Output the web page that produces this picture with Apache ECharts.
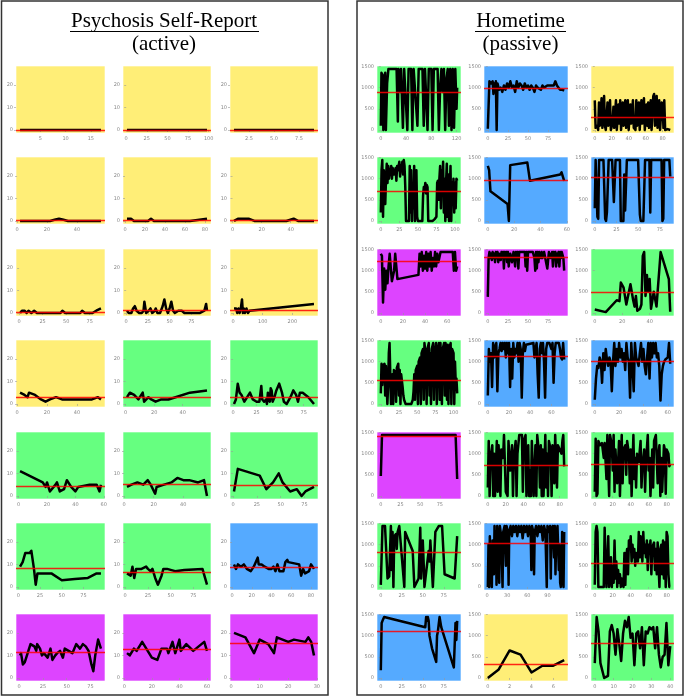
<!DOCTYPE html>
<html>
<head>
<meta charset="utf-8">
<script src="https://cdn.jsdelivr.net/npm/echarts@6/dist/echarts.min.js"></script>
<style>
  html, body { margin: 0; padding: 0; background: #fff; }
  #main { width: 685px; height: 697px; }
</style>
</head>
<body>
<div id="main"></div>
<script>
// ---- Psychosis self-report (active), row by row, [day, score] ----
const psy1 = [[1,0],[3,0],[5,0],[7,0],[9,0],[11,0],[13,0],[15,0],[17,0]]
const psy2 = [[1,0],[25,0],[50,0],[75,0],[98,0]]
const psy3 = [[1,0],[3,0],[5,0],[7,0],[9,0]]
const psy4 = [[2,0],[22,0],[25,0.5],[28,1],[31,0.5],[34,0],[56,0]]
const psy5 = [[2,1],[6,1],[9,0],[23,0],[26,1],[29,0],[65,0],[82,1]]
const psy6 = [[1,0],[4,1],[11,1],[15,0],[37,0],[42,1],[45,0],[56,0]]
const psy7 = [[1,0],[3,1],[6,1],[8,0],[10,1],[13,0],[16,1],[19,0],[24,0],[44,0],[46,1],[49,0],[65,0],[67,1],[70,0],[78,0],[82,1],[87,2]]
const psy8 = [[1,1],[3,0],[6,0],[8,2],[10,3],[12,1],[15,0],[18,0],[20,1],[21,5],[23,0],[26,1],[28,2],[30,0],[33,1],[34,2],[36,0],[39,0],[42,3],[44,6],[46,2],[48,0],[50,2],[52,5],[54,1],[56,0],[60,1],[64,1],[67,0],[75,0],[85,0],[90,1],[92,4],[93,1]]
const psy9 = [[3,2],[10,2],[14,0],[18,2],[22,0],[26,2],[30,6],[33,0],[36,2],[40,0],[45,2],[50,0],[55,1],[273,4]]
const psy10 = [[2,5],[5,4],[7,3],[8,5],[12,4],[16,2],[19,1],[22,2],[26,3],[30,2],[35,2],[45,2],[50,2],[54,3],[56,2]]
const psy11 = [[1,3],[3,5],[6,4],[9,2],[12,5],[13,1],[16,3],[18,2],[21,1],[25,2],[30,2],[35,3],[45,5],[57,6]]
const psy12 = [[1,0],[3,2],[5,9],[7,5],[9,4],[12,1],[15,3],[18,5],[21,2],[25,1],[28,1],[30,8],[31,2],[33,1],[35,2],[36,0],[37,5],[38,2],[39,1],[40,7],[41,6],[42,1],[44,3],[46,6],[49,9],[52,5],[54,1],[57,0],[61,3],[64,6],[67,4],[69,1],[71,5],[74,5],[80,3],[86,0]]
const psy13 = [[1,11],[17,6],[19,4],[20,6],[22,2],[26,5],[27,6],[29,2],[32,3],[34,7],[37,4],[40,2],[42,4],[50,5],[55,5],[57,2],[58,5]]
const psy14 = [[2,4],[5,5],[9,6],[13,5],[16,7],[18,5],[21,1],[22,4],[27,5],[32,6],[36,8],[40,7],[44,7],[50,6],[54,7],[56,0]]
const psy15 = [[1,2],[5,12],[28,9],[35,3],[42,6],[48,10],[52,6],[60,2],[67,3],[72,0],[76,2],[85,4]]
const psy16 = [[2,9],[5,11],[8,15],[13,15],[15,16],[18,8],[20,1],[22,6],[30,6],[38,6],[50,3],[65,3.5],[80,4],[90,6],[95,6]]
const psy17 = [[2,6],[6,5],[8,9],[10,4],[12,8],[18,8],[23,9],[25,8],[28,7],[30,8],[33,4],[36,1],[40,5],[42,8],[46,8],[55,7],[65,7.5],[85,8],[90,1]]
const psy18 = [[2,10],[4,8],[6,10],[9,9],[12,10],[15,8],[19,7],[22,9],[24,9],[26,13],[27,10],[30,10],[33,9],[37,8],[40,8],[42,9],[44,7],[46,10],[48,7],[52,7],[54,11],[56,12],[57,11],[68,10],[70,5],[72,8],[74,6],[78,7],[80,10],[83,8]]
const psy19 = [[1,10],[2,11],[4,6],[6,7],[8,7],[12,15],[16,14],[18,12],[19,15],[22,13],[24,10],[26,11],[28,10],[30,9],[33,13],[35,8],[38,10],[40,11],[43,12],[46,9],[48,13],[52,12],[56,11],[60,15],[64,13],[67,15],[70,14],[73,12],[76,6],[78,3],[80,10],[83,17],[86,13]]
const psy20 = [[2,11],[4,10],[7,13],[9,12],[13,16],[17,12],[20,9],[24,8],[27,13],[31,13],[32,11],[35,16],[37,11],[40,17],[41,12],[45,15],[50,12],[54,14],[58,16],[60,12]]
const psy21 = [[1,20],[5,18],[8,11],[10,17],[13,15],[15,11],[16,18],[20,16],[22,17],[26,16],[27,18],[28,16],[29,10]]

const psyMeans = [0, 0, 0, 0.1, 0.3, 0.3, 0.3, 1.1, 1.3, 2.8, 2.9, 3.1, 4.5, 5.2, 4.9, 8.2, 6.5, 8.8, 11.5, 12.8, 15.5]
const psyColors = ['Y','Y','Y', 'Y','Y','Y', 'Y','Y','Y', 'Y','G','G', 'G','G','G', 'G','G','B', 'P','P','P']
const psyXTicks = [
  [5,10,15], [0,25,50,75,100], [2.5,5.0,7.5],
  [0,20,40], [0,20,40,60,80], [0,20,40],
  [0,25,50,75], [0,25,50,75], [0,100,200],
  [0,20,40], [0,20,40], [0,25,50,75],
  [0,20,40,60], [0,20,40], [0,25,50,75],
  [0,25,50,75,100], [0,25,50,75], [0,20,40,60,80],
  [0,25,50,75], [0,20,40,60], [0,10,20,30]
]
const psyYTicks = [0, 10, 20]

// ---- Hometime (passive), minutes at home per day, [day, minutes] ----
const home1 = [[0,100],[1,1350],[3,1300],[4,0],[5,1200],[6,600],[7,1350],[8,0],[10,1100],[12,1440],[25,1440],[27,200],[28,1440],[31,900],[32,1440],[35,50],[37,1440],[40,1440],[42,0],[44,1440],[48,1440],[50,0],[52,1440],[55,1440],[58,100],[60,1440],[66,1440],[68,100],[70,1440],[72,1440],[74,0],[76,1440],[80,1440],[82,0],[84,1440],[90,1440],[92,0],[94,1000],[96,1440],[98,900],[100,1440],[102,0],[104,1200],[106,1440],[108,100],[110,1440],[112,0],[114,1440],[116,50],[118,1440],[120,500],[121,1000]]
const home2 = [[0,30],[2,1150],[4,1100],[6,1150],[7,850],[8,1100],[9,900],[10,1150],[11,0],[12,1100],[14,950],[16,1000],[18,900],[20,1050],[22,950],[24,1100],[26,1000],[28,1150],[30,1000],[32,1050],[34,900],[36,1150],[38,1000],[40,1100],[42,1050],[44,950],[46,1100],[48,1000],[50,1050],[52,950],[54,1050],[56,1000],[58,900],[60,1050],[62,1000],[64,1000],[66,950],[68,1050],[70,1000],[72,1000],[74,1050],[76,1050],[78,1050],[80,1050],[82,1050],[84,1150],[86,1050],[88,1000],[90,950],[93,950],[95,930]]
const home3 = [[0,700],[1,50],[3,100],[4,0],[5,650],[6,100],[8,750],[9,50],[11,800],[12,100],[13,0],[15,650],[16,100],[18,700],[19,0],[21,150],[22,550],[23,50],[25,700],[26,0],[28,600],[29,150],[30,700],[31,0],[33,650],[34,100],[36,700],[37,50],[39,700],[40,0],[42,600],[43,150],[45,700],[46,50],[48,0],[49,700],[50,100],[52,650],[53,0],[55,700],[56,150],[58,750],[59,0],[61,600],[62,100],[63,650],[64,50],[66,700],[67,0],[69,800],[70,850],[71,100],[73,800],[74,50],[76,700],[77,0],[79,650],[80,600],[81,50],[82,700],[83,0],[85,0],[86,20],[87,0],[89,0]]
const home4 = [[0,200],[1,1200],[2,1440],[3,100],[4,1200],[5,900],[6,400],[7,1000],[8,1350],[9,900],[10,1300],[11,1000],[12,1200],[13,1150],[14,1300],[15,1000],[16,1250],[18,1100],[20,1250],[21,950],[22,1300],[23,1200],[25,1400],[26,1050],[27,1300],[28,1200],[29,1400],[30,1100],[31,1440],[32,1300],[33,800],[34,0],[36,0],[38,0],[39,1300],[40,200],[41,1200],[42,0],[43,900],[44,300],[45,1300],[46,0],[47,700],[48,1200],[49,100],[50,0],[53,0],[56,0],[57,600],[58,800],[59,700],[60,900],[61,650],[62,850],[63,800],[64,0],[66,0],[70,0],[73,50],[75,100],[76,900],[77,950],[78,500],[79,1000],[80,1300],[81,300],[82,1200],[83,800],[84,1400],[85,200],[86,1000],[87,0],[88,900],[89,1350],[90,100],[91,1100],[92,0],[93,700],[94,1300],[95,0],[96,900],[97,600],[98,1000],[99,200],[100,900],[101,300],[102,1000],[103,950]]
const home5 = [[0,1300],[1,1200],[2,700],[15,400],[16,0],[17,1320],[30,1380],[32,950],[55,1100],[56,1150],[57,1180],[58,950]]
const home6 = [[0,300],[1,1440],[2,1400],[3,100],[4,50],[5,1440],[10,1440],[12,50],[13,0],[14,200],[16,1440],[20,1440],[22,450],[24,1440],[29,1440],[30,0],[33,0],[34,1100],[35,250],[37,1440],[50,1440],[52,150],[53,0],[56,0],[58,1440],[63,1440],[64,200],[65,1440],[77,1440],[78,0],[79,50],[80,1440],[86,1440],[87,1050]]
const home7 = [[0,1400],[1,1350],[2,250],[3,1050],[4,550],[5,1000],[6,700],[7,1100],[8,1400],[10,750],[12,1000],[13,1400],[15,800],[34,900],[35,1400],[36,1100],[37,1440],[38,1000],[39,1350],[40,1050],[41,1440],[42,1000],[43,1400],[44,1100],[45,1440],[46,1000],[47,1300],[48,1100],[49,1440],[50,1100],[51,1400],[52,1200],[54,1440],[65,1440],[66,1000],[67,1440],[68,1000],[69,1100]]
const home8 = [[0,380],[1,1300],[2,1440],[3,1300],[4,1400],[5,1250],[6,1440],[7,1300],[8,1400],[9,1200],[10,1440],[11,1300],[12,1440],[13,1200],[14,1400],[15,1440],[16,1250],[17,1440],[18,1300],[19,1440],[20,1050],[21,1440],[22,1300],[23,1440],[24,1200],[25,1440],[26,1100],[27,1300],[28,1400],[30,1200],[32,1440],[34,1100],[35,1440],[36,1300],[37,1440],[38,1050],[39,1440],[42,1440],[46,1440],[47,1100],[48,1440],[49,1000],[50,1440],[56,1440],[58,1300],[59,1000],[60,1440],[61,1050],[62,1440],[63,1200],[64,1440],[66,1300],[67,1440],[68,1300],[70,1440],[72,1440],[74,1050],[76,1440],[78,1300],[80,1440],[81,1100],[82,1440],[83,1300],[84,1440],[85,1100],[86,1400],[87,1200],[88,1440],[89,1100],[90,1440],[91,1300],[92,1440],[93,1400],[94,1300],[95,1000]]
const home9 = [[0,80],[8,20],[16,300],[18,280],[19,720],[21,600],[23,200],[26,680],[28,300],[29,150],[30,400],[31,50],[33,100],[34,200],[35,1350],[36,1440],[37,400],[38,900],[39,500],[40,800],[41,100],[42,300],[43,500],[45,150],[48,1440],[54,800],[55,30]]
const home10 = [[0,250],[1,950],[2,450],[3,900],[5,950],[6,200],[7,900],[9,0],[10,400],[11,1200],[12,1440],[14,0],[16,700],[17,0],[18,800],[20,750],[21,50],[22,850],[24,950],[25,200],[26,800],[27,0],[28,700],[30,400],[31,200],[32,100],[34,0],[38,0],[42,0],[44,100],[45,300],[46,700],[47,100],[48,800],[50,900],[51,0],[52,1000],[54,1100],[55,0],[56,1200],[58,1300],[59,100],[60,1440],[62,1100],[63,0],[64,1300],[66,1440],[67,200],[68,1200],[69,0],[70,1300],[72,1440],[73,100],[74,1100],[76,1440],[77,0],[78,1200],[80,1440],[81,100],[82,1440],[83,800],[84,0],[85,1300],[87,1440],[88,200],[89,1440],[91,100],[92,1400],[93,0],[94,1300],[96,1440],[97,0],[98,1300],[100,1200],[101,0],[102,1000],[103,500],[104,600],[105,250]]
const home11 = [[0,200],[1,1300],[2,1000],[3,1200],[4,400],[5,1440],[6,1100],[7,1350],[8,1440],[9,300],[10,1200],[11,1300],[12,1440],[13,1250],[14,1440],[15,1300],[16,1440],[17,1100],[18,1440],[19,1200],[20,1440],[21,400],[22,1300],[23,600],[24,1440],[25,1100],[26,1300],[27,1200],[28,1440],[29,1000],[30,1440],[31,1300],[32,150],[33,1200],[34,1440],[35,1250],[36,1400],[37,1440],[43,1440],[44,1100],[45,1300],[46,1440],[47,700],[48,150],[49,1300],[50,1440],[51,1200],[52,1440],[53,1000],[54,150],[55,1300],[56,1440],[58,1440],[60,1300],[61,1440],[62,500],[63,1200],[64,1440],[67,1440],[68,1300],[69,1100],[70,1050],[71,1440],[72,1050]]
const home12 = [[0,100],[1,600],[2,900],[3,850],[4,1100],[5,1000],[6,500],[7,1200],[8,800],[9,1300],[10,1050],[11,900],[12,1100],[13,1000],[14,300],[15,1000],[16,1440],[17,900],[18,1300],[19,1000],[20,1440],[21,1100],[22,1300],[23,1000],[24,1200],[25,800],[26,1440],[27,1100],[28,1000],[29,150],[30,1440],[31,900],[32,300],[33,1440],[34,1100],[35,1000],[36,900],[37,1200],[38,1440],[39,1000],[40,1300],[41,900],[42,700],[43,1100],[44,1440],[45,600],[46,1440],[47,1100],[48,1440],[49,1200],[50,1440],[51,1100],[52,1200],[53,900],[54,80],[55,700],[56,900],[57,1000],[58,1050],[59,1050],[60,1100],[61,1440],[62,950]]
const home13 = [[0,470],[1.5,1440],[30,1440],[60,1440],[95,1440],[97,400]]
const home14 = [[0,200],[1,1300],[2,0],[3,900],[5,1200],[6,0],[7,1000],[8,0],[10,1300],[11,100],[12,1200],[14,0],[15,1100],[17,900],[18,1440],[19,1440],[20,100],[22,0],[23,1300],[25,600],[27,1200],[28,0],[29,900],[31,1300],[32,0],[33,1000],[35,1440],[36,1440],[38,1440],[39,100],[40,1300],[42,1440],[43,0],[45,1200],[46,0],[47,600],[48,0],[49,1300],[51,0],[52,0],[53,1200],[54,0],[55,1440],[57,1000],[58,200],[59,1200],[60,0],[61,1100],[62,0],[64,1440],[65,200],[66,1000],[67,0],[68,1300],[70,1100],[71,0],[72,1200],[74,300],[75,1440],[77,200],[78,1200],[80,1100],[82,1000],[83,1300],[84,1440],[85,700]]
const home15 = [[0,100],[1,1350],[2,0],[3,50],[4,1300],[6,1200],[8,1250],[10,900],[11,1250],[13,400],[14,1440],[16,0],[17,1440],[19,1200],[20,600],[21,1440],[22,100],[23,1100],[25,300],[27,1300],[28,0],[30,1440],[31,300],[32,1100],[34,1200],[35,500],[36,1300],[38,1000],[39,300],[40,1100],[41,0],[43,1440],[44,400],[45,900],[46,200],[47,1000],[49,800],[51,1300],[52,200],[53,700],[55,1100],[56,100],[57,800],[59,1440],[60,600],[61,900],[62,0],[64,1100],[65,200],[66,1300],[68,1440],[70,300],[71,1000],[72,1200],[73,0],[74,900],[75,100],[77,1200],[78,1100],[79,50],[80,1100],[82,1000],[83,700],[84,750]]
const home16 = [[0,50],[2,1440],[5,1440],[8,200],[10,250],[12,1440],[13,400],[14,1300],[15,0],[16,1200],[18,1250],[19,900],[20,1300],[22,1440],[28,0],[29,1300],[38,850],[40,0],[42,0],[45,200],[47,1400],[48,200],[50,1100],[51,600],[52,0],[57,850],[58,600],[59,1100],[62,0],[65,1300],[69,1440],[73,1440],[76,300],[88,200],[91,1200]]
const home17 = [[1,0],[2,1000],[3,0],[4,1200],[5,100],[6,500],[7,0],[8,1100],[10,300],[11,1440],[12,400],[13,1300],[14,50],[15,1440],[17,1000],[18,100],[19,1440],[21,1200],[23,0],[24,1300],[26,1440],[28,500],[29,1440],[31,1300],[32,50],[33,1300],[35,1440],[37,1200],[39,1440],[41,1300],[43,1440],[45,1200],[47,1440],[49,1300],[51,1440],[53,1150],[55,1440],[57,1300],[59,1440],[61,1200],[63,1440],[65,1300],[66,400],[67,1440],[69,1300],[70,300],[71,1300],[73,1440],[75,1200],[77,1440],[79,1300],[81,1440],[83,1100],[85,1440],[87,1300],[89,0],[90,1440],[92,1300],[94,1440],[95,200],[96,1300],[98,1440],[100,700],[101,1440],[102,300],[103,1100],[105,1440],[107,400],[108,1000],[109,100],[110,0],[111,200],[112,1300],[113,1200],[114,0],[115,1300]]
const home18 = [[0,50],[1,1300],[2,1440],[3,1300],[4,0],[6,0],[10,0],[11,1400],[12,600],[13,0],[14,0],[15,1200],[16,0],[17,300],[18,700],[19,0],[20,500],[21,100],[22,1100],[23,200],[24,600],[25,0],[26,400],[27,100],[28,300],[29,0],[30,200],[31,100],[32,0],[33,800],[34,50],[35,700],[36,900],[37,300],[38,1100],[39,900],[40,1200],[41,600],[42,1000],[43,700],[44,900],[45,500],[46,800],[47,700],[48,600],[49,1300],[50,700],[51,1200],[52,900],[53,600],[54,1300],[55,800],[56,1000],[57,700],[58,1100],[59,400],[60,1000],[61,800],[62,1100],[63,300],[64,900],[65,1000],[66,1050],[67,400],[68,900],[69,300],[70,1050],[71,500],[72,0],[73,900],[74,1000],[75,300],[76,1100],[77,200],[78,1050],[79,0],[80,1300],[81,1200],[82,300],[83,0],[84,0]]
const home19 = [[0,180],[1,1300],[2,1350],[4,1440],[53,1200],[54,1440],[55,1350],[56,1440],[57,1350],[58,1000],[61,700],[66,380],[67,1000],[68,1100],[70,1440],[72,1200],[87,250],[89,1300],[90,900],[91,1350]]
const home20 = [[0,0],[1,200],[2,650],[3,550],[4,130],[5,290],[6,290],[7,420]]
const home21 = [[0,350],[1,1440],[2,1100],[3,350],[5,0],[6,0],[7,50],[8,1100],[9,1250],[10,1050],[11,550],[12,1150],[13,800],[14,400],[15,1050],[16,1350],[17,1200],[18,1440],[19,950],[20,1050],[21,300],[22,1050],[23,1100],[24,700],[25,1200],[26,300],[27,1100],[28,1050],[29,1200],[30,1150],[31,1200],[32,700],[33,1200],[34,550],[35,250],[36,500],[37,550],[38,1300],[39,300],[40,750]]

const homeMeans = [895, 976, 300, 698, 960, 1024, 1220, 1315, 488, 560, 1118, 1000, 1415, 720, 760, 811, 1023, 566, 1110, 322, 827]
const homeColors = ['G','B','Y', 'G','B','B', 'P','P','G', 'G','B','B', 'P','G','G', 'G','B','G', 'B','Y','G']
const homeXTicks = [
  [0,40,80,120], [0,25,50,75,100], [0,20,40,60,80],
  [0,25,50,75,100], [0,20,40,60], [0,25,50,75],
  [0,20,40,60], [0,25,50,75], [0,20,40],
  [0,25,50,75,100], [0,20,40,60], [0,20,40,60],
  [0,25,50,75], [0,20,40,60,80], [0,20,40,60,80],
  [0,25,50,75], [0,30,60,90], [0,20,40,60,80],
  [0,25,50,75], [0,2,4,6], [0,10,20,30,40]
]
const homeYTicks = [0, 500, 1000, 1500]

const psyData = [psy1,psy2,psy3,psy4,psy5,psy6,psy7,psy8,psy9,psy10,psy11,psy12,psy13,psy14,psy15,psy16,psy17,psy18,psy19,psy20,psy21]
const homeData = [home1,home2,home3,home4,home5,home6,home7,home8,home9,home10,home11,home12,home13,home14,home15,home16,home17,home18,home19,home20,home21]

const palette = { Y: '#FFEE77', G: '#66FF80', B: '#55AAFF', P: '#DD44FF' }

// layout of the small panels
const rowTops = [66, 157, 249, 340, 432, 523, 614]
const plotH = 67
const psyLefts = [16, 123, 230]
const psyWidths = [89, 88, 88]
const homeLefts = [377, 484, 591]
const homeWidths = [84, 84, 83]

const grids = [], xAxes = [], yAxes = [], series = []

function addPanel(data, mean, color, xTicks, yTicks, yMin, yMax, left, width, top) {
  const i = grids.length
  const xs = data.map(d => d[0])
  const lo = Math.min(...xs), hi = Math.max(...xs)
  const pad = (hi - lo) * 0.05
  const decimals = xTicks.some(v => v % 1 !== 0)
  grids.push({
    left: left, top: top, width: width, height: plotH,
    show: true, backgroundColor: palette[color],
    borderColor: 'rgba(255,255,255,0.6)', borderWidth: 1
  })
  xAxes.push({
    type: 'value', gridIndex: i, min: lo - pad, max: hi + pad,
    axisLine: { show: false },
    splitLine: { show: false },
    axisTick: { show: true, customValues: xTicks, length: 2, lineStyle: { color: '#999', width: 0.6 } },
    axisLabel: {
      customValues: xTicks, fontSize: 5, color: '#888', margin: 3,
      fontFamily: 'DejaVu Sans',
      formatter: v => decimals ? v.toFixed(1) : String(v)
    }
  })
  yAxes.push({
    type: 'value', gridIndex: i, min: yMin, max: yMax,
    axisLine: { show: false },
    splitLine: { show: false },
    axisTick: { show: true, customValues: yTicks, length: 2, lineStyle: { color: '#999', width: 0.6 } },
    axisLabel: {
      customValues: yTicks, fontSize: 5, color: '#888', margin: 3, fontFamily: 'DejaVu Sans',
      formatter: v => String(v)
    }
  })
  series.push({
    type: 'line', xAxisIndex: i, yAxisIndex: i, data: data,
    showSymbol: false, symbol: 'none',
    lineStyle: { color: '#000', width: 2.5, join: 'round' },
    markLine: {
      silent: true, symbol: 'none', label: { show: false },
      lineStyle: { color: 'rgba(255,0,0,0.85)', width: 1.4, type: 'solid' },
      data: [{ yAxis: mean }]
    }
  })
}

for (let k = 0; k < 21; k++) {
  const r = Math.floor(k / 3), c = k % 3
  addPanel(psyData[k], psyMeans[k], psyColors[k], psyXTicks[k], psyYTicks, -1.35, 28.35,
    psyLefts[c], psyWidths[c], rowTops[r])
  addPanel(homeData[k], homeMeans[k], homeColors[k], homeXTicks[k], homeYTicks, -72, 1512,
    homeLefts[c], homeWidths[c], rowTops[r])
}

const serif = '"Liberation Serif", "Times New Roman", serif'

const chart = echarts.init(document.getElementById('main'))
chart.setOption({
  animation: false,
  grid: grids,
  xAxis: xAxes,
  yAxis: yAxes,
  series: series,
  graphic: [
    { type: 'rect', shape: { x: 1.5, y: 1, width: 326.5, height: 694 }, style: { fill: 'none', stroke: '#333', lineWidth: 1.5 } },
    { type: 'rect', shape: { x: 357, y: 1, width: 326, height: 694 }, style: { fill: 'none', stroke: '#333', lineWidth: 1.5 } },
    { type: 'text', x: 164, y: 21.5, style: { text: 'Psychosis Self-Report', font: '21px ' + serif, fill: '#000', align: 'center', verticalAlign: 'middle' } },
    { type: 'line', shape: { x1: 70, y1: 31.5, x2: 259, y2: 31.5 }, style: { stroke: '#000', lineWidth: 1 } },
    { type: 'text', x: 164, y: 44, style: { text: '(active)', font: '21px ' + serif, fill: '#000', align: 'center', verticalAlign: 'middle' } },
    { type: 'text', x: 520.5, y: 21.5, style: { text: 'Hometime', font: '21px ' + serif, fill: '#000', align: 'center', verticalAlign: 'middle' } },
    { type: 'line', shape: { x1: 475, y1: 31.5, x2: 566, y2: 31.5 }, style: { stroke: '#000', lineWidth: 1 } },
    { type: 'text', x: 520.5, y: 44, style: { text: '(passive)', font: '21px ' + serif, fill: '#000', align: 'center', verticalAlign: 'middle' } }
  ]
})
</script>
</body>
</html>
